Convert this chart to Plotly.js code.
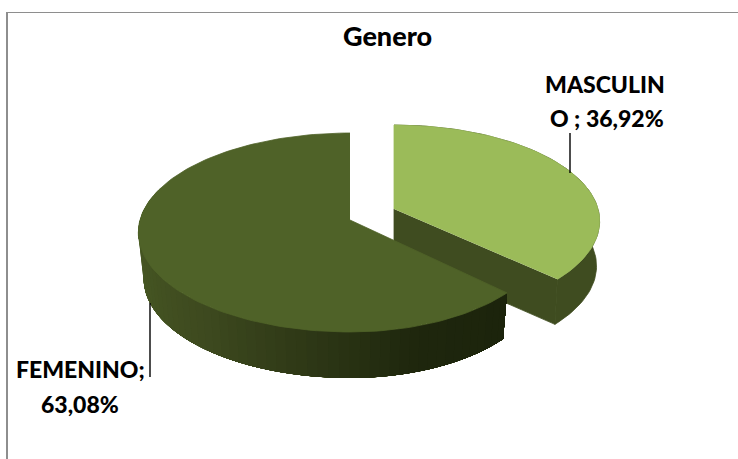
<!DOCTYPE html>
<html><head><meta charset="utf-8">
<script src="https://cdn.plot.ly/plotly-3.0.1.min.js"></script>
<style>html,body{margin:0;padding:0;background:#fff}#c{width:738px;height:459px}</style>
</head><body><div id="c"></div>
<script>
const chartTitle = "Genero";
const categories = ["MASCULINO", "FEMENINO"];
const shares = [36.92, 63.08];
const labelLines = [["MASCULIN", "O ; 36,92%"], ["FEMENINO;", "63,08%"]];
const topColors = ["#9bbb59", "#4f6228"];

// projection of each slice (perspective tilted disc)
const P = 0.1256;
const maleDisc = {ax:394, ay:209, rxL:204, rxR:204, ry:94.5, depth:45, shrink:0.985};
const femaleDisc = {ax:350, ay:220, rxL:210, rxR:196, ry:97.9, depth:46, shrink:0.975};

function pt(d, deg, lower){
  const t = deg*Math.PI/180, u = Math.sin(t), v = Math.cos(t), den = 1+P*v;
  const rx = u>=0 ? d.rxR : d.rxL, s = lower ? d.shrink : 1;
  return [d.ax + s*rx*u/den, d.ay + d.ry*v/den*-1 + (lower ? d.depth : 0)];
}
function poly(pts, color, w){
  return {type:"scatter", mode:"lines", x:pts.map(p=>p[0]), y:pts.map(p=>p[1]), fill:"toself",
    fillcolor:color, line:{color:color, width:w===undefined?0.8:w}, hoverinfo:"skip", showlegend:false};
}
function mix(stops, f){
  let i=0; while(i<stops.length-2 && f>stops[i+1][0]) i++;
  const a=stops[i], b=stops[i+1], k=Math.min(1,Math.max(0,(f-a[0])/(b[0]-a[0])));
  return "rgb("+[1,2,3].map(j=>Math.round(a[j]+(b[j]-a[j])*k)).join(",")+")";
}
function range(a,b,n){const r=[];for(let i=0;i<=n;i++)r.push(a+(b-a)*i/n);return r;}

const split = shares[0]/(shares[0]+shares[1])*360;
const traces = [];

// male wall + cut face + top
const mArc = range(0, split, 80);
traces.push(poly(mArc.map(a=>pt(maleDisc,a,false)).concat(mArc.slice().reverse().map(a=>pt(maleDisc,a,true))), "#3f4c20"));
traces.push(poly([[maleDisc.ax,maleDisc.ay],[maleDisc.ax,maleDisc.ay+maleDisc.depth],pt(maleDisc,split,true),pt(maleDisc,split,false)], "#3f4c20"));
traces.push(poly([[maleDisc.ax,maleDisc.ay]].concat(mArc.map(a=>pt(maleDisc,a,false))), topColors[0]));

// female wall in shaded bands, each overlapping the next to avoid seams
const wallStops = [[0,28,36,12],[0.18,30,38,13],[0.55,62,74,31],[0.85,72,90,36],[1,78,96,39]];
const bands = 60, fStart = split, fEnd = 290;
for(let i=bands-1;i>=0;i--){
  const a=fStart, b=fStart+(fEnd-fStart)*(i+1)/bands, arc=range(a,b,Math.max(2,i*2));
  traces.push(poly(arc.map(x=>pt(femaleDisc,x,false)).concat(arc.slice().reverse().map(x=>pt(femaleDisc,x,true))), mix(wallStops,i/(bands-1)), 0));
}
// female top
const fArc = range(split, 360, 140);
traces.push(poly([[femaleDisc.ax,femaleDisc.ay]].concat(fArc.map(a=>pt(femaleDisc,a,false))), topColors[1]));

// leader lines
function leader(x,y0,y1){return {type:"scatter",mode:"lines",x:[x,x],y:[y0,y1],line:{color:"#000",width:1.4},hoverinfo:"skip",showlegend:false};}
traces.push(leader(570,133,173), leader(150,303,377));

const font = {family:"Lato, Carlito, sans-serif", size:23, color:"#000", weight:900};
const note = (x,y,t,size)=>({x,y,xref:"x",yref:"y",text:t,showarrow:false,font:Object.assign({},font,size?{size}:{}),xanchor:"center",yanchor:"middle"});
const layout = {
  width:738, height:459, margin:{l:0,r:0,t:0,b:0}, paper_bgcolor:"#fff", plot_bgcolor:"#fff", showlegend:false,
  xaxis:{range:[0,738],visible:false,fixedrange:true},
  yaxis:{range:[459,0],visible:false,fixedrange:true},
  shapes:[
    {type:"line",xref:"x",yref:"y",x0:7,x1:7,y0:12,y1:459,line:{color:"#8e8e8e",width:2}},
    {type:"line",xref:"x",yref:"y",x0:6,x1:738,y0:12.5,y1:12.5,line:{color:"#8e8e8e",width:1.2}}
  ],
  annotations:[
    note(387,35,chartTitle,27),
    note(605,84,labelLines[0][0]), note(607,118,labelLines[0][1]),
    note(80,369,labelLines[1][0]), note(80,404,labelLines[1][1])
  ]
};
Plotly.newPlot("c",traces,layout,{displayModeBar:false,staticPlot:true});
</script></body></html>
